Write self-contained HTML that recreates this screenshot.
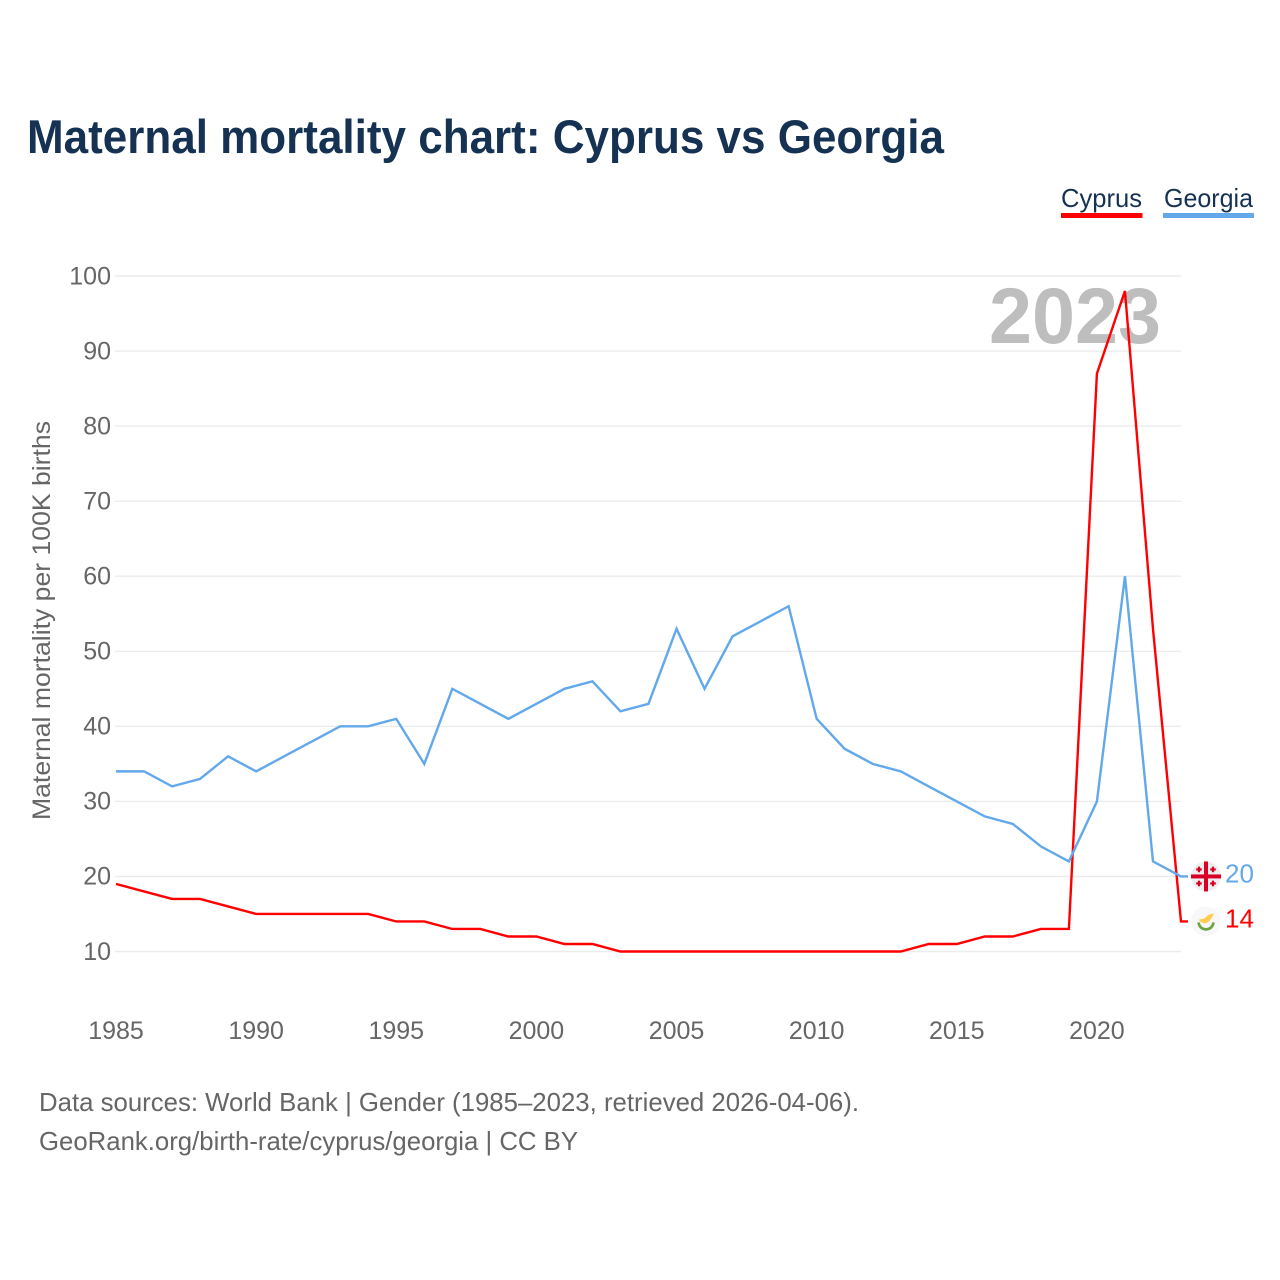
<!DOCTYPE html>
<html>
<head>
<meta charset="utf-8">
<title>Maternal mortality chart: Cyprus vs Georgia</title>
<style>
html,body{margin:0;padding:0;background:#fff;width:1280px;height:1280px;overflow:hidden}
svg{display:block}
text{font-family:"Liberation Sans",sans-serif}
</style>
</head>
<body>
<svg id="chart" xmlns="http://www.w3.org/2000/svg" width="1280" height="1280" viewBox="0 0 1280 1280">
  <rect x="0" y="0" width="1280" height="1280" fill="#fff"/>
  <text x="27" y="153" font-size="47" font-weight="700" fill="#163253" textLength="917" lengthAdjust="spacingAndGlyphs">Maternal mortality chart: Cyprus vs Georgia</text>

  <g>
    <g>
      <text x="1061" y="207" font-size="26" fill="#163253" textLength="81" lengthAdjust="spacingAndGlyphs">Cyprus</text>
      <rect x="1061" y="213" width="81.5" height="5" fill="#ff0000"/>
    </g>
    <g>
      <text x="1164" y="207" font-size="26" fill="#163253" textLength="89" lengthAdjust="spacingAndGlyphs">Georgia</text>
      <rect x="1163" y="213" width="91" height="5" fill="#62a8ea"/>
    </g>
  </g>

  <g id="grid"></g>
  <text x="989" y="343" font-size="79" font-weight="700" fill="#bebebe" textLength="172" lengthAdjust="spacingAndGlyphs">2023</text>
  <g id="yaxis"></g>
  <g id="xaxis"></g>
  <text transform="translate(50 820) rotate(-90)" x="0" y="0" font-size="25" fill="#666666" textLength="399" lengthAdjust="spacingAndGlyphs">Maternal mortality per 100K births</text>
  <g id="series"></g>
  <g id="ends"></g>

  <text x="39" y="1111" font-size="26" fill="#666666" textLength="820" lengthAdjust="spacingAndGlyphs">Data sources: World Bank | Gender (1985–2023, retrieved 2026-04-06).</text>
  <text x="39" y="1150" font-size="26" fill="#666666" textLength="539" lengthAdjust="spacingAndGlyphs">GeoRank.org/birth-rate/cyprus/georgia | CC BY</text>
</svg>
<script>
const years = [1985,1986,1987,1988,1989,1990,1991,1992,1993,1994,1995,1996,1997,1998,1999,2000,2001,2002,2003,2004,2005,2006,2007,2008,2009,2010,2011,2012,2013,2014,2015,2016,2017,2018,2019,2020,2021,2022,2023];
const cyprusValues = [19,18,17,17,16,15,15,15,15,15,14,14,13,13,12,12,11,11,10,10,10,10,10,10,10,10,10,10,10,11,11,12,12,13,13,87,98,53,14];
const georgiaValues = [34,34,32,33,36,34,36,38,40,40,41,35,45,43,41,43,45,46,42,43,53,45,52,54,56,41,37,35,34,32,30,28,27,24,22,30,60,22,20];
const yTickValues = [10,20,30,40,50,60,70,80,90,100];
const xTickValues = [1985,1990,1995,2000,2005,2010,2015,2020];

const NS = 'http://www.w3.org/2000/svg';
const X0 = 116, X1 = 1181, Y10 = 951.5, Y100 = 276;

function xScale(year) {
  return X0 + (year - years[0]) * (X1 - X0) / (years[years.length - 1] - years[0]);
}
function yScale(value) {
  return Y10 + (value - 10) * (Y100 - Y10) / 90;
}
function make(tag, parent, attrs, content) {
  const el = document.createElementNS(NS, tag);
  for (const k in attrs) el.setAttribute(k, attrs[k]);
  if (content !== undefined) el.textContent = content;
  parent.appendChild(el);
  return el;
}

const grid = document.getElementById('grid');
const yaxis = document.getElementById('yaxis');
const xaxis = document.getElementById('xaxis');
const seriesGroup = document.getElementById('series');
const ends = document.getElementById('ends');

yTickValues.forEach(function (v) {
  const line = make('line', grid, {x1: X0 - 1, x2: X1, y1: yScale(v), y2: yScale(v), stroke: '#ececec', 'stroke-width': 1.4});
  
  
  const label = make('text', yaxis, {x: 111, y: yScale(v) + 8.3, 'text-anchor': 'end', 'font-size': 25, fill: '#666666'}, String(v));
  
  
});

xTickValues.forEach(function (y) {
  const label = make('text', xaxis, {x: xScale(y), y: 1039, 'text-anchor': 'middle', 'font-size': 25, fill: '#666666'}, String(y));
  
  
});

function drawSeries(values, color, name) {
  const pts = values.map(function (v, i) {
    return xScale(years[i]).toFixed(2) + ',' + yScale(v).toFixed(2);
  });
  const lastY = yScale(values[values.length - 1]);
  pts.push((xScale(years[years.length - 1]) + 7).toFixed(2) + ',' + lastY.toFixed(2));
  const line = make('polyline', seriesGroup, {points: pts.join(' '), fill: 'none', stroke: color, 'stroke-width': 2.4, 'stroke-linejoin': 'miter'});
  
  
}
drawSeries(cyprusValues, '#ff0000', 'cyprus');
drawSeries(georgiaValues, '#62a8ea', 'georgia');

function drawGeorgiaFlag(cx, cy) {
  const g = make('g', ends, {});
  
  
  make('circle', g, {cx: cx, cy: cy, r: 15, fill: '#eeeeee'});
  make('rect', g, {x: cx - 2, y: cy - 15, width: 4, height: 30, fill: '#d80027'});
  make('rect', g, {x: cx - 15, y: cy - 2, width: 30, height: 4, fill: '#d80027'});
  [[-7, -7], [7, -7], [-7, 7], [7, 7]].forEach(function (o) {
    make('rect', g, {x: cx + o[0] - 1.1, y: cy + o[1] - 2.8, width: 2.2, height: 5.6, fill: '#d80027'});
    make('rect', g, {x: cx + o[0] - 2.8, y: cy + o[1] - 1.1, width: 5.6, height: 2.2, fill: '#d80027'});
  });
}
function drawCyprusFlag(cx, cy) {
  const g = make('g', ends, {});
  
  
  make('circle', g, {cx: cx, cy: cy, r: 15, fill: '#f8f8f8'});
  make('path', g, {d: 'M' + (cx - 7) + ' ' + (cy - 2) + 'l5 -1l5 -4l5 -1l-2 4l-3 4l-4 2l-3 -1l-2 -1z', fill: '#ffce4f'});
  make('path', g, {d: 'M' + (cx - 7.5) + ' ' + (cy + 1) + 'q1 6.5 7.5 7q6.5 -0.5 7.5 -7', fill: 'none', stroke: '#6da544', 'stroke-width': 2.6});
}

const lastYear = years[years.length - 1];
const georgiaLast = georgiaValues[georgiaValues.length - 1];
const cyprusLast = cyprusValues[cyprusValues.length - 1];
const flagX = xScale(lastYear) + 25;

drawGeorgiaFlag(flagX, yScale(georgiaLast));
drawCyprusFlag(flagX, yScale(cyprusLast));

const georgiaLabel = make('text', ends, {x: 1225, y: yScale(georgiaLast) + 6, 'font-size': 26, fill: '#62a8ea'}, String(georgiaLast));


const cyprusLabel = make('text', ends, {x: 1225, y: yScale(cyprusLast) + 6, 'font-size': 26, fill: '#ff0000'}, String(cyprusLast));


</script>
</body>
</html>
